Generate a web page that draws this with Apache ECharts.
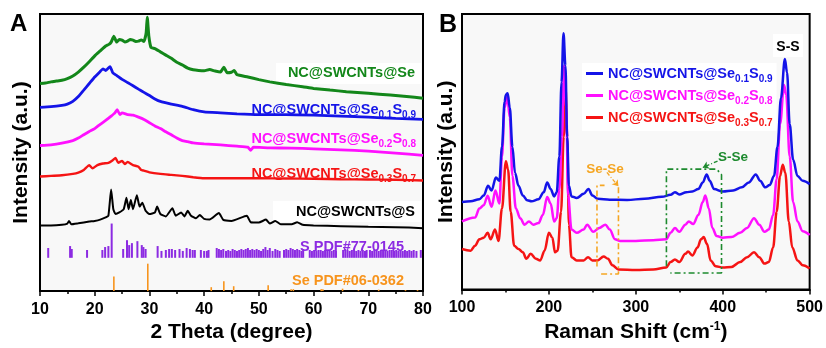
<!DOCTYPE html>
<html>
<head>
<meta charset="utf-8">
<script src="https://cdn.jsdelivr.net/npm/echarts@6/dist/echarts.min.js"></script>
<style>
  html, body { margin: 0; padding: 0; background: #fff; }
  #chart { width: 826px; height: 348px; }
</style>
</head>
<body>
<div id="chart"></div>
<script>
// XRD patterns, 2 theta (deg) vs. intensity (a.u., offset stack)
const xrdSe = [[10,212],[11,212.5],[12,213.7],[13,214.5],[14,215.3],[15,217],[16,219.7],[17,223.7],[18,228.7],[19,234.3],[20,240.3],[21,245.3],[22,250.3],[22.6,252],[23,254.3],[23.5,260.3],[24,254.3],[24.5,257],[25,256.3],[25.5,254.5],[26,255.3],[26.5,257],[27,256.3],[27.5,255],[28,255.3],[28.5,256.5],[29,255],[29.4,263.7],[29.6,279.7],[29.9,260],[30.3,248.7],[31,247.7],[32,244.3],[33,241],[34,237.7],[35,233.7],[36,231],[37,227.7],[38,226],[39,225.3],[40,225],[41,226.3],[42,224.7],[43,223.7],[43.6,228.7],[44.2,223],[45,223.5],[45.5,225.3],[46,221],[48,218.7],[50,216],[52,213.7],[55,211],[58,208.7],[60,207],[63,205.3],[66,203.7],[70,202],[74,200.3],[77,198.7],[80,197]];
const xrdSe01 = [[10,187.7],[12,188.3],[14,189.7],[15,191],[16,193.7],[17,198.7],[18,205.3],[19,212],[20,218.7],[21,224.3],[21.5,227],[22,225.3],[22.8,229.3],[23.3,223],[24,220.3],[25,216.3],[26,213],[27,209.7],[28,206.3],[29,203],[30,199.7],[31,196.3],[32,193.7],[34,191],[36,188.7],[38,185.3],[40,183],[43,182],[46,181],[50,180.3],[55,180.3],[60,179.7],[65,178.7],[70,177.7],[75,176.3],[80,175.3]];
const xrdSe02 = [[10,148.7],[12,149.3],[14,151],[16,153.7],[17,156.3],[18,159.7],[19,163],[20,166],[21,170.3],[22,174.3],[23,178.7],[23.7,182],[24.1,185.3],[24.6,180.3],[25,182],[26,180.3],[27,179.7],[28,177.7],[29,175.3],[30,172],[31,168.7],[32,166],[33,162.7],[34,159.7],[35,156.3],[36,153.7],[37,152.7],[38,151.3],[40,150.3],[43,149.3],[46,148],[48,147],[48.5,143.7],[49,147],[52,146.3],[56,146],[60,145.3],[65,144.3],[70,143],[75,141],[80,138.7]];
const xrdSe03 = [[10,117],[12,117.7],[14,118.3],[16,119.7],[17,121],[18,123.7],[19,128.7],[19.6,125.3],[20.5,128.7],[21.5,130.3],[22.5,131],[23.3,133.7],[23.8,136],[24.3,131],[25,133],[25.5,129.7],[26,132],[27,128.7],[28,127],[28.5,123.7],[29,123],[30,121.3],[32,119.7],[34,118.7],[36,117.7],[38,116.3],[40,115.3],[45,115.3],[50,115.3],[55,115],[60,114.7],[65,114.3],[70,114],[75,113.7],[80,113]];
const xrdS = [[10,67],[12,67],[14,67.7],[15,69],[15.3,71.7],[15.7,68.3],[17,69.3],[19,71],[20,71.7],[21,73],[22,75.3],[22.5,77],[23,103.7],[23.4,83.7],[23.8,78.7],[24.5,80.3],[25.3,83.7],[25.8,95.3],[26.2,83.7],[26.6,93],[27,83.7],[27.7,98],[28.2,86.3],[28.7,90.3],[29.3,82],[30,78.7],[31,80.3],[31.4,86.3],[32,78.7],[33,76.3],[34.2,84.7],[34.8,77],[35.8,80.3],[36.4,76.3],[37,82],[37.6,77],[38.5,74.3],[39.2,77.7],[40,73.7],[41,73],[42.7,79.7],[43.5,72.7],[45,71.7],[47.8,77],[48.5,70.3],[50,70],[51.3,73],[52,69],[53,71.7],[54,68.3],[56,68.3],[57,70.3],[58,67.7],[60,67],[65,66.3],[70,65.7],[75,65.3],[80,64.3]];

// reference patterns: [2 theta, stick top]
const sPdfBase = 34;
const sPdf = [[11.5,44],[15.5,46],[15.8,43],[18.6,42],[21.4,42],[21.9,45],[22.5,46],[23.1,69],[25.2,43],[25.9,52],[26.3,47],[26.8,49],[27.8,51],[28.6,47],[28.9,45],[29.3,43],[31.5,46],[32.2,41],[33.0,42],[33.6,43],[34.1,43],[34.7,42],[35.5,43],[36.1,41],[36.8,44],[37.4,43],[37.9,42],[38.3,42],[39.4,42],[40.0,41],[40.5,41],[40.8,42],[42.3,44],[42.7,43],[43.1,42],[43.5,43],[44.0,41],[44.4,42],[44.8,41],[45.2,43],[45.6,42],[46.0,41],[46.4,42],[46.8,43],[47.2,42],[47.6,43],[48.0,44],[48.4,42],[48.8,43],[49.2,42],[49.6,43],[50.0,42],[50.4,41],[50.8,43],[51.2,45],[51.6,42],[52.0,44],[52.5,41],[53.0,43],[53.4,42],[53.8,41],[54.6,42],[55.0,43],[55.4,42],[55.8,44],[56.2,43],[56.6,42],[57.0,43],[57.4,42],[57.8,41],[58.1,43],[59.3,42],[59.7,41],[60.1,42],[60.5,41],[60.9,42],[61.3,42],[61.7,41],[62.1,42],[62.5,41],[62.9,42],[63.3,41],[63.7,42],[64.1,41],[65.4,42],[65.8,43],[66.2,42],[66.6,41],[67.0,42],[67.4,42],[67.8,41],[68.2,42],[68.6,41],[69.0,42],[69.4,41],[69.7,42],[70.3,42],[70.7,41],[71.1,42],[71.5,42],[71.9,41],[72.3,42],[72.7,41],[73.1,42],[73.5,41],[73.9,42],[74.3,42],[74.7,41],[75.1,42],[75.5,41],[75.9,42],[76.3,41],[76.7,42],[77.1,41],[77.5,42],[77.9,41],[78.3,42],[78.8,41],[79.6,42]];
const sePdfBase = 0;
const sePdf = [[23.5,15],[29.7,28],[41.3,4],[43.6,10],[45.4,5],[51.7,6],[55.9,2],[56.3,2],[61.4,2],[61.7,2],[65.3,2.5],[68.2,1],[71.9,1.5],[76.8,1],[79,1]];

// Raman spectra, shift (cm-1) vs intensity
const ramanSe01 = [[100,90],[110,90.7],[120,92.7],[125,96.7],[130,106.7],[134,101.7],[139,115],[143,111.7],[146,146.7],[149,193],[150.5,200],[152.5,201.7],[155,186.7],[158,146.7],[161,120],[165,106.7],[170,96.7],[175,91.7],[180,90.7],[188,92.7],[194,100],[198,110],[202,103.3],[206,95.7],[209,100],[212,136.7],[214.5,213],[216.8,263.3],[219,230],[221,156.7],[223,106.7],[226,95.7],[232,94],[240,98.3],[245.5,103.3],[250,96.7],[256,93.3],[270,92.3],[290,92],[310,93.3],[330,95.3],[340,97.3],[345,100],[350,97.7],[358,100],[365,100.7],[372,103.3],[377,110],[381.5,118.3],[385,111.7],[390,103.3],[400,100.7],[412,101.7],[422,105],[430,110],[438,118.3],[443,111.7],[449,105],[454,107.3],[459,116.7],[463,146.7],[467,196.7],[471.5,236.7],[474,223],[477,170],[481,133.3],[486,116.7],[492,111.7],[500,108.3]];
const ramanSe02 = [[100,70],[115,74],[120,83.3],[125,86.7],[129.5,96.3],[134,85],[138.5,101.7],[143,88.3],[146,136.7],[149,186.7],[152,198.3],[155,176.7],[158,116.7],[162,83.3],[167,73.3],[172,66.7],[177,70],[182,66.7],[188,68.3],[193,76.7],[198,95],[202,88.3],[206,70],[209,73.3],[212,103.3],[215,156.7],[217.5,230],[220,186.7],[222,96.7],[226,61.7],[232,58.3],[240,61.7],[244,66.7],[251,59.3],[258,63.3],[265,66.7],[270,61.7],[276,51.7],[282,50],[300,50],[320,50.7],[335,51.7],[340,58.3],[345,63.3],[350,59.3],[357,66.7],[361,70],[366,67.3],[372,76.7],[377,90],[380,96.7],[384,83.3],[388,63.3],[393,55],[400,53.3],[410,54],[420,58.3],[428,63.3],[436,73.3],[442,66.7],[448,59.3],[453,61.7],[458,76.7],[462,113.3],[466,170],[470.5,210],[473,200],[477,136.7],[481,90],[486,70],[492,60],[500,56]];
const ramanSe03 = [[100,41.7],[110,40],[115,45],[120,51.7],[125,53.3],[129.5,58.3],[133,51.7],[138,61.7],[142,50],[146,83.3],[150.5,131.7],[153,123.3],[156,80],[160,45],[165,41.7],[170,38.3],[174,31.7],[179,36.7],[185,31.7],[190,30],[195,40],[200,58.3],[204,53.3],[207,38.3],[210,40],[214,80],[217,156.7],[219,210],[221,156.7],[223,66.7],[226,33.3],[232,30],[240,30],[245,33.3],[250,30],[256,30],[263,34],[268,31.7],[273,25],[280,20.7],[300,20],[320,20.7],[335,22.7],[340,28.3],[345,31],[350,28.3],[357,36.7],[360,39],[365,35],[371,43.3],[375,51.7],[378,54],[382,46.7],[386,30],[392,24],[400,22.7],[410,23.3],[420,28.3],[428,33.3],[436,38.3],[442,33.3],[448,26.7],[453,28.3],[458,43.3],[462,80],[466,116.7],[469,128.3],[472,120],[476,70],[480,43.3],[486,30],[492,25],[500,21.7]];

// dash-dot guide boxes (cm-1, intensity)
const seSeBoxA = [[255.3,23.7],[255.3,107],[264,107]];
const seSeBoxB = [[280,105],[280,16],[257,16]];
const sSeBox = [[335.2,24],[335.2,123.7],[393,123.7],[398.6,118],[398.6,17],[339.7,17]];
const seSeArrow = [[266.7,120.3],[280,106]];
const sSeArrow = [[394,132],[377,125.3]];

const FONT = '"Liberation Sans", Arial, Helvetica, sans-serif';
const C = {
  se: '#13871a', se01: '#1414e8', se02: '#ff10ff', se03: '#f51414',
  s: '#000000', sPdf: '#8c2be2', sePdf: '#f7941d', boxOrange: '#f5a623', boxGreen: '#1d8a2e'
};

function sticks(base, color, w) {
  return (params, api) => {
    const top = api.coord([api.value(0), api.value(1)]);
    const bot = api.coord([api.value(0), base]);
    return { type: 'rect', shape: { x: top[0] - w / 2, y: top[1], width: w, height: bot[1] - top[1] }, style: { fill: color } };
  };
}

function xrdLine(data, color, idx, w) {
  return { type: 'line', xAxisIndex: idx, yAxisIndex: idx, data: data, showSymbol: false, smooth: 0.15,
           lineStyle: { color: color, width: w }, itemStyle: { color: color }, z: 3 };
}

function ramanLine(name, data, color) {
  return { name: name, type: 'line', xAxisIndex: 1, yAxisIndex: 1, data: data, showSymbol: false,
           smooth: 0.35, smoothMonotone: 'x', lineStyle: { color: color, width: 2.5 }, itemStyle: { color: color }, z: 3 };
}

function guide(data, color) {
  return { type: 'line', xAxisIndex: 1, yAxisIndex: 1, data: data, showSymbol: false, silent: true,
           lineStyle: { color: color, width: 1.6, type: [6, 3, 2, 3] }, z: 4 };
}

function subRich(color, key) {
  const r = {};
  r['m' + key] = { fill: color, color: color, fontSize: 14.5, fontWeight: 'bold', fontFamily: FONT, lineHeight: 21 };
  r['s' + key] = { fill: color, color: color, fontSize: 10, fontWeight: 'bold', fontFamily: FONT, lineHeight: 10, verticalAlign: 'bottom' };
  return r;
}
const rich = Object.assign({}, subRich(C.se01, 1), subRich(C.se02, 2), subRich(C.se03, 3));
const seNames = ['NC@SWCNTs@Se0.1S0.9', 'NC@SWCNTs@Se0.2S0.8', 'NC@SWCNTs@Se0.3S0.7'];
const seSubs = [['0.1', '0.9'], ['0.2', '0.8'], ['0.3', '0.7']];
function richName(i) {
  const k = i + 1;
  return `{m${k}|NC@SWCNTs@Se}{s${k}|${seSubs[i][0]}}{m${k}|S}{s${k}|${seSubs[i][1]}}`;
}

const axisText = { color: '#000', fontSize: 16, fontWeight: 'bold', fontFamily: FONT };
const nameText = { color: '#000', fontSize: 21, fontWeight: 'bold', fontFamily: FONT };

function xAxis(idx, min, max, interval, name) {
  return {
    type: 'value', gridIndex: idx, min: min, max: max, interval: interval,
    name: name, nameLocation: 'middle', nameGap: 27,
    nameTextStyle: Object.assign({}, nameText, { rich: {
      a: { fontSize: 21, fontWeight: 'bold', fontFamily: FONT, color: '#000', lineHeight: 24 },
      b: { fontSize: 12, fontWeight: 'bold', fontFamily: FONT, color: '#000', verticalAlign: 'top', lineHeight: 12 }
    } }),
    axisLine: { lineStyle: { color: '#000', width: 2 } },
    axisTick: { inside: false, length: 5, lineStyle: { color: '#000', width: 1.5 } },
    minorTick: { show: true, splitNumber: 2, length: 3, lineStyle: { color: '#000', width: 1.5 } },
    axisLabel: Object.assign({ margin: 10 }, axisText),
    splitLine: { show: false }
  };
}
function yAxis(idx, gap) {
  return {
    type: 'value', gridIndex: idx, min: 0, max: 283,
    name: 'Intensity (a.u.)', nameLocation: 'middle', nameRotate: 90, nameGap: gap, nameTextStyle: nameText,
    axisLine: { show: true, lineStyle: { color: '#000', width: 2 } },
    axisTick: { show: false }, axisLabel: { show: false }, splitLine: { show: false }
  };
}

const chart = echarts.init(document.getElementById('chart'), null, { renderer: 'canvas' });

const option = {
  animation: false,
  backgroundColor: '#fff',
  grid: [
    { left: 40, right: 403, top: 14, bottom: 51, show: true, backgroundColor: '#f8f8f8', borderColor: '#000', borderWidth: 2 },
    { left: 462, right: 13, top: 14, bottom: 51, show: true, backgroundColor: '#f8f8f8', borderColor: '#000', borderWidth: 2 }
  ],
  xAxis: [
    xAxis(0, 10, 80, 10, '2 Theta (degree)'),
    Object.assign(xAxis(1, 100, 500, 100, '{a|Raman Shift (cm}{b|-1}{a|)}'), { nameGap: 25 })
  ],
  yAxis: [yAxis(0, 8), yAxis(1, 5)],
  legend: {
    data: seNames,
    orient: 'vertical', left: 582, top: 63, padding: [3, 4, 3, 4],
    backgroundColor: '#ffffff', icon: 'rect', itemWidth: 17, itemHeight: 3, itemGap: 4,
    formatter: name => richName(seNames.indexOf(name)),
    textStyle: { rich: rich }, selectedMode: false
  },
  series: [
    { type: 'custom', xAxisIndex: 0, yAxisIndex: 0, data: sePdf, renderItem: sticks(sePdfBase, C.sePdf, 1.6), z: 2 },
    { type: 'custom', xAxisIndex: 0, yAxisIndex: 0, data: sPdf, renderItem: sticks(sPdfBase, C.sPdf, 2), z: 2 },
    xrdLine(xrdS, C.s, 0, 2),
    xrdLine(xrdSe03, C.se03, 0, 2.4),
    xrdLine(xrdSe02, C.se02, 0, 2.8),
    xrdLine(xrdSe01, C.se01, 0, 2.8),
    xrdLine(xrdSe, C.se, 0, 3),
    ramanLine(seNames[2], ramanSe03, C.se03),
    ramanLine(seNames[1], ramanSe02, C.se02),
    ramanLine(seNames[0], ramanSe01, C.se01),
    guide(seSeBoxA, C.boxOrange),
    guide(seSeBoxB, C.boxOrange),
    Object.assign(guide(sSeBox, C.boxGreen), {
      markLine: { silent: true, symbol: ['none', 'arrow'], symbolSize: 6, label: { show: false },
        data: [
          [{ coord: seSeArrow[0], lineStyle: { color: C.boxOrange, width: 1.3, type: [4, 2, 1, 2] } }, { coord: seSeArrow[1] }],
          [{ coord: sSeArrow[0], lineStyle: { color: C.boxGreen, width: 1.3, type: [4, 2, 1, 2] } }, { coord: sSeArrow[1] }]
        ] }
    })
  ],
  graphic: [
    // white patches behind labels
    { type: 'rect', left: 276, top: 63, shape: { width: 145, height: 21 }, style: { fill: '#fff' }, z: 1 },
    { type: 'rect', left: 273, top: 201, shape: { width: 148, height: 21 }, style: { fill: '#fff' }, z: 1 },
    { type: 'rect', left: 773, top: 34, shape: { width: 30, height: 23 }, style: { fill: '#fff' }, z: 1 },
    { type: 'text', x: 10, y: 12, style: { text: 'A', fill: '#000', font: 'bold 24px ' + FONT }, z: 10 },
    { type: 'text', x: 439, y: 13, style: { text: 'B', fill: '#000', font: 'bold 25px ' + FONT }, z: 10 },
    { type: 'text', x: 415, y: 73, style: { text: 'NC@SWCNTs@Se', fill: C.se, font: 'bold 14.5px ' + FONT, align: 'right', verticalAlign: 'middle' }, z: 10 },
    { type: 'text', x: 416, y: 110, style: { text: richName(0), rich: rich, align: 'right', verticalAlign: 'middle' }, z: 10 },
    { type: 'text', x: 416, y: 139, style: { text: richName(1), rich: rich, align: 'right', verticalAlign: 'middle' }, z: 10 },
    { type: 'text', x: 416, y: 174, style: { text: richName(2), rich: rich, align: 'right', verticalAlign: 'middle' }, z: 10 },
    { type: 'text', x: 415, y: 212, style: { text: 'NC@SWCNTs@S', fill: '#000', font: 'bold 14.5px ' + FONT, align: 'right', verticalAlign: 'middle' }, z: 10 },
    { type: 'text', x: 404, y: 247, style: { text: 'S PDF#77-0145', fill: C.sPdf, font: 'bold 14.5px ' + FONT, align: 'right', verticalAlign: 'middle' }, z: 10 },
    { type: 'text', x: 404, y: 281, style: { text: 'Se PDF#06-0362', fill: C.sePdf, font: 'bold 14.5px ' + FONT, align: 'right', verticalAlign: 'middle' }, z: 10 },
    { type: 'text', x: 788, y: 47, style: { text: 'S-S', fill: '#000', font: 'bold 14px ' + FONT, align: 'center', verticalAlign: 'middle' }, z: 10 },
    { type: 'text', x: 605, y: 169, style: { text: 'Se-Se', fill: C.boxOrange, font: 'bold 13.5px ' + FONT, align: 'center', verticalAlign: 'middle' }, z: 10 },
    { type: 'text', x: 733, y: 157, style: { text: 'S-Se', fill: C.boxGreen, font: 'bold 13.5px ' + FONT, align: 'center', verticalAlign: 'middle' }, z: 10 }
  ]
};

chart.setOption(option);
</script>
</body>
</html>
